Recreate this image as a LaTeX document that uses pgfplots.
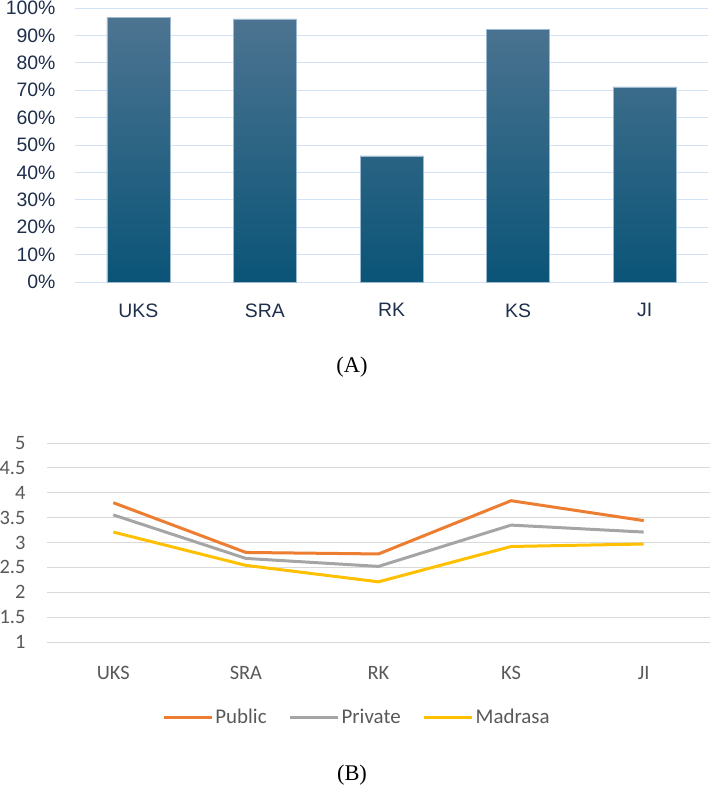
\documentclass[border=0pt]{standalone}
\usepackage{pgfplots}
\pgfplotsset{compat=1.18}
\usepackage{fontspec}
\setmainfont{Liberation Serif}
\newfontfamily\topfont{Liberation Sans}
\newfontfamily\botfont{Carlito}
\definecolor{barTop}{HTML}{4D7491}
\definecolor{barMid}{HTML}{135F86}
\definecolor{barBot}{HTML}{0A5477}
\definecolor{barEdge}{HTML}{9DB9D0}
\definecolor{gridA}{HTML}{D2E2F6}
\definecolor{labA}{HTML}{1E2F4C}
\definecolor{gridB}{HTML}{D9D9D9}
\definecolor{labB}{HTML}{595959}
\definecolor{cPub}{HTML}{ED7D31}
\definecolor{cPri}{HTML}{A5A5A5}
\definecolor{cMad}{HTML}{FFC000}
\begin{document}
\begin{tikzpicture}
\useasboundingbox (0bp,0bp) rectangle (710bp,-795bp);
% ---------------- (A) ----------------
\begin{axis}[
  at={(75bp,-282bp)}, anchor=south west,
  scale only axis, width=633bp, height=274bp,
  xmin=-0.5, xmax=4.5, ymin=0, ymax=100,
  xtick={0,1,2,3,4}, xticklabels={UKS,SRA,RK,KS,JI},
  ytick={0,10,...,100},
  yticklabel={\pgfmathprintnumber{\tick}\%},
  /pgf/number format/assume math mode=true,
  ymajorgrids, major grid style={color=gridA, line width=1bp},
  major tick length=0pt,
  axis line style={draw=none},
  tick label style={font=\topfont\fontsize{19.5}{21}\selectfont, text=labA},
  yticklabel style={xshift=-16bp},
  xticklabel style={yshift=-18bp},
]
\addplot[ybar, bar width=63bp, draw=barEdge, line width=0.6bp,
  top color=barTop, middle color=barMid, bottom color=barBot]
  coordinates {(0,96.7) (1,96.0) (2,46.0) (3,92.2) (4,71.2)};
\end{axis}
\node[font=\fontsize{22.5}{25}\selectfont] at (352bp,-367bp) {(A)};
% ---------------- (B) ----------------
\begin{axis}[
  at={(47bp,-642bp)}, anchor=south west,
  scale only axis, width=663bp, height=199bp,
  xmin=-0.5, xmax=4.5, ymin=1, ymax=5,
  xtick={0,1,2,3,4}, xticklabels={UKS,SRA,RK,KS,JI},
  ytick={1,1.5,...,5},
  /pgf/number format/assume math mode=true,
  ymajorgrids, major grid style={color=gridB, line width=1bp},
  major tick length=0pt,
  axis line style={draw=none},
  tick label style={font=\botfont\fontsize{20.5}{22}\selectfont, text=labB},
  yticklabel style={xshift=-18bp},
  xticklabel style={yshift=-21bp},
  legend columns=3,
  legend style={at={(0.4676,-0.377)}, anchor=center, draw=none, fill=none,
    font=\botfont\fontsize{21}{23}\selectfont, text=labB,
    /tikz/every even column/.append style={column sep=20bp}},
  legend image code/.code={\draw[#1] (0bp,0bp) -- (48bp,0bp);},
]
\addplot[cPub, line width=3bp] coordinates {(0,3.80) (1,2.80) (2,2.77) (3,3.84) (4,3.44)};
\addlegendentry{Public}
\addplot[cPri, line width=3bp] coordinates {(0,3.555) (1,2.68) (2,2.52) (3,3.35) (4,3.21)};
\addlegendentry{Private}
\addplot[cMad, line width=3bp] coordinates {(0,3.21) (1,2.54) (2,2.21) (3,2.92) (4,2.97)};
\addlegendentry{Madrasa}
\end{axis}
\node[font=\fontsize{22.5}{25}\selectfont] at (352bp,-775bp) {(B)};
\end{tikzpicture}
\end{document}
